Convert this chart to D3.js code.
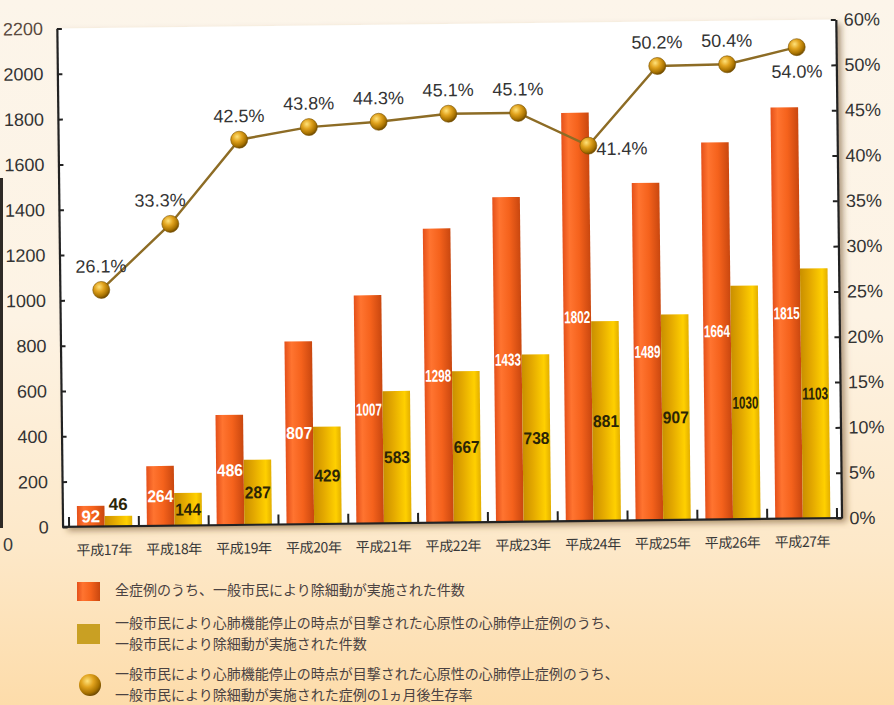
<!DOCTYPE html>
<html>
<head>
<meta charset="utf-8">
<script src="https://cdn.jsdelivr.net/npm/d3@7"></script>
<style>
  html, body { margin: 0; padding: 0; }
  body { width: 894px; height: 705px; overflow: hidden; }
  svg { display: block; }
</style>
</head>
<body>
<svg id="chart" width="894" height="705"></svg>
<script>
// ---------------- data ----------------
const categories = ["平成17年","平成18年","平成19年","平成20年","平成21年","平成22年","平成23年","平成24年","平成25年","平成26年","平成27年"];
const allCasesDefib = [92, 264, 486, 807, 1007, 1298, 1433, 1802, 1489, 1664, 1815];
const witnessedDefib = [46, 144, 287, 429, 583, 667, 738, 881, 907, 1030, 1103];
const survivalRate = [26.1, 33.3, 42.5, 43.8, 44.3, 45.1, 45.1, 41.4, 50.2, 50.4, 54.0];
const leftTicks = [0, 200, 400, 600, 800, 1000, 1200, 1400, 1600, 1800, 2000, 2200];
const rightTicks = [0, 5, 10, 15, 20, 25, 30, 35, 40, 45, 50, 60];
const rateLabelPlacement = ["above","above-left","above","above","above","above","above","right","above","above","below"];
const legendLines = [
  ["全症例のうち、一般市民により除細動が実施された件数"],
  ["一般市民により心肺機能停止の時点が目撃された心原性の心肺停止症例のうち、", "一般市民により除細動が実施された件数"],
  ["一般市民により心肺機能停止の時点が目撃された心原性の心肺停止症例のうち、", "一般市民により除細動が実施された症例の1ヵ月後生存率"]
];

// ---------------- layout ----------------
const svg = d3.select("#chart");
const W = 894, H = 705;
const plotLeft = 60, plotRight = 839, plotTop = 24, plotBottom = 522.5;
const numFont = "'Liberation Sans', Arial, Helvetica, sans-serif";
const cjkFont = "'Noto Sans CJK JP', 'Noto Sans CJK SC', sans-serif";

const defs = svg.append("defs");
const bg = defs.append("linearGradient").attr("id","bg").attr("x1",0).attr("y1",0).attr("x2",0).attr("y2",1);
[[0,"#fcf5ea"],[0.45,"#fdf3e4"],[0.78,"#fde8c8"],[1,"#fddcaa"]].forEach(s=>bg.append("stop").attr("offset",s[0]).attr("stop-color",s[1]));

const og = defs.append("linearGradient").attr("id","orangeGrad").attr("x1",0).attr("x2",1).attr("y1",0).attr("y2",0);
[[0,"#e4501a"],[0.25,"#ff7430"],[0.6,"#f5621c"],[1,"#c9470f"]].forEach(s=>og.append("stop").attr("offset",s[0]).attr("stop-color",s[1]));
const yg = defs.append("linearGradient").attr("id","yellowGrad").attr("x1",0).attr("x2",1).attr("y1",0).attr("y2",0);
[[0,"#c98f00"],[0.35,"#e3a800"],[0.8,"#ffd000"],[1,"#e2ae00"]].forEach(s=>yg.append("stop").attr("offset",s[0]).attr("stop-color",s[1]));
const ball = defs.append("radialGradient").attr("id","ballGrad").attr("cx","38%").attr("cy","32%").attr("r","70%");
[[0,"#ffe27a"],[0.4,"#e1a31e"],[0.78,"#a87200"],[1,"#6a4700"]].forEach(s=>ball.append("stop").attr("offset",s[0]).attr("stop-color",s[1]));

const shadow = defs.append("filter").attr("id","shadow").attr("x","-5%").attr("y","-5%").attr("width","115%").attr("height","115%");
shadow.append("feDropShadow").attr("dx",5).attr("dy",4).attr("stdDeviation",3).attr("flood-color","#6b4a20").attr("flood-opacity",0.55);

svg.append("rect").attr("width",W).attr("height",H).attr("fill","url(#bg)");

// cut-off neighbouring chart fragment at far left
svg.append("rect").attr("x",0).attr("y",178).attr("width",3).attr("height",350).attr("fill","#2e2a26");
svg.append("text").attr("x",8).attr("y",551).attr("text-anchor","middle")
  .attr("font-family",numFont).attr("font-size",18).attr("fill","#3a3a3a").text("0");

const g = svg.append("g").attr("transform","rotate(-0.66, 449, 300)");

// plot area
g.append("rect").attr("x",plotLeft).attr("y",plotTop).attr("width",plotRight-plotLeft).attr("height",plotBottom-plotTop)
  .attr("fill","#ffffff").attr("filter","url(#shadow)");

// scales
const x = d3.scaleBand().domain(categories).range([66.5, 834.5]).padding(0);
const bw = x.bandwidth();
const series = ["all","witnessed"];
const x1 = d3.scaleBand().domain(series).range([bw*0.115, bw*0.905]).padding(0);
const yL = d3.scaleLinear().domain([0, 2200]).range([plotBottom, plotTop]);
const yR = d3.scaleLinear().domain([0, 50, 60]).range([yL(0), yL(2000), yL(2200)]);

// bars
const rows = categories.map((c,i)=>({cat:c, all:allCasesDefib[i], witnessed:witnessedDefib[i], rate:survivalRate[i], i}));
const grp = g.append("g").selectAll("g").data(rows).join("g").attr("transform",d=>`translate(${x(d.cat)},0)`);
grp.append("rect").attr("x",x1("all")).attr("width",x1.bandwidth())
  .attr("y",d=>yL(d.all)).attr("height",d=>yL(0)-yL(d.all)).attr("fill","url(#orangeGrad)");
grp.append("rect").attr("x",x1("witnessed")).attr("width",x1.bandwidth())
  .attr("y",d=>yL(d.witnessed)).attr("height",d=>yL(0)-yL(d.witnessed)).attr("fill","url(#yellowGrad)");

function fit(sel, maxW){
  sel.each(function(){
    const len = this.getComputedTextLength();
    if (len > maxW) d3.select(this).attr("textLength",maxW).attr("lengthAdjust","spacingAndGlyphs");
  });
}
const lblAll = grp.append("text")
  .attr("x",x1("all")+x1.bandwidth()/2)
  .attr("y",d=>(yL(d.all)+yL(0))/2)
  .attr("dy","0.36em").attr("text-anchor","middle")
  .attr("font-family",numFont).attr("font-weight","bold").attr("font-size",17)
  .attr("fill","#ffffff").text(d=>d.all);
fit(lblAll, 26);
const lblW = grp.append("text")
  .attr("x",x1("witnessed")+x1.bandwidth()/2)
  .attr("y",d=>{ const h = yL(0)-yL(d.witnessed); return h < 16 ? yL(d.witnessed)-12 : (yL(d.witnessed)+yL(0))/2; })
  .attr("dy","0.36em").attr("text-anchor","middle")
  .attr("font-family",numFont).attr("font-weight","bold").attr("font-size",17)
  .attr("fill","#2b2406").text(d=>d.witnessed);
fit(lblW, 26);

// axes
const axL = g.append("g").attr("transform",`translate(${plotLeft},0)`)
  .call(d3.axisLeft(yL).tickValues(leftTicks).tickFormat(d=>String(d)).tickSize(-5).tickSizeOuter(0).tickPadding(14));
const axR = g.append("g").attr("transform",`translate(${plotRight},0)`)
  .call(d3.axisRight(yR).tickValues(rightTicks).tickFormat(d=>d+"%").tickSize(-5).tickSizeOuter(0).tickPadding(8));
[axL, axR].forEach(a=>{
  a.select(".domain").attr("stroke","#222").attr("stroke-width",2.2);
  a.selectAll(".tick line").attr("stroke","#222").attr("stroke-width",2);
  a.selectAll(".tick text").attr("font-family",numFont).attr("font-size",18).attr("fill","#333");
});
axL.selectAll(".tick text").filter(d=>d===2200).attr("fill","#5a4a3e");

// baseline + category separators
g.append("line").attr("x1",plotLeft).attr("x2",plotRight).attr("y1",plotBottom).attr("y2",plotBottom)
  .attr("stroke","#222").attr("stroke-width",2.2);
const seps = categories.map(c=>x(c)).concat([x.range()[1]]);
g.append("g").selectAll("line").data(seps).join("line")
  .attr("x1",d=>d).attr("x2",d=>d).attr("y1",plotBottom).attr("y2",plotBottom-10)
  .attr("stroke","#222").attr("stroke-width",2);

// category labels
g.append("g").selectAll("text").data(categories).join("text")
  .attr("x",d=>x(d)+bw/2).attr("y",551).attr("text-anchor","middle")
  .attr("font-family",cjkFont).attr("font-size",14).attr("letter-spacing",-0.4)
  .attr("fill","#383838").text(d=>d);

// survival line
const cx = d=>x(d.cat)+bw/2;
const line = d3.line().x(cx).y(d=>yR(d.rate));
g.append("path").datum(rows).attr("d",line).attr("fill","none")
  .attr("stroke","#8d6c25").attr("stroke-width",2.4);
g.append("g").selectAll("circle").data(rows).join("circle")
  .attr("cx",cx).attr("cy",d=>yR(d.rate)).attr("r",8.5).attr("fill","url(#ballGrad)")
  .attr("stroke","#7a5200").attr("stroke-width",0.6);

g.append("g").selectAll("text").data(rows).join("text")
  .attr("x",d=>{ const p = rateLabelPlacement[d.i];
     return p==="above-left" ? cx(d)-10 : p==="right" ? cx(d)+8 : cx(d); })
  .attr("y",d=>{ const p = rateLabelPlacement[d.i]; const yy = yR(d.rate);
     return p==="below" ? yy+24 : p==="right" ? yy+3 : yy-24; })
  .attr("dy","0.36em")
  .attr("text-anchor",d=>rateLabelPlacement[d.i]==="right" ? "start" : "middle")
  .attr("font-family",numFont).attr("font-size",18).attr("fill","#333")
  .text(d=>d.rate.toFixed(1)+"%");

// legend (not rotated)
const lg = svg.append("g");
lg.append("rect").attr("x",77).attr("y",582).attr("width",23).attr("height",19).attr("fill","url(#orangeGrad)");
lg.append("rect").attr("x",77).attr("y",624).attr("width",23).attr("height",20).attr("fill","#c9a023");
lg.append("circle").attr("cx",90).attr("cy",685).attr("r",11).attr("fill","url(#ballGrad)");
const legendY = [[590],[623,644],[674,695]];
legendLines.forEach((lines,k)=>{
  lines.forEach((t,j)=>{
    lg.append("text").attr("x",115).attr("y",legendY[k][j])
      .attr("dy","0.36em").attr("font-family",cjkFont).attr("font-size",14)
      .attr("fill","#4a4242").text(t);
  });
});
</script>
</body>
</html>
